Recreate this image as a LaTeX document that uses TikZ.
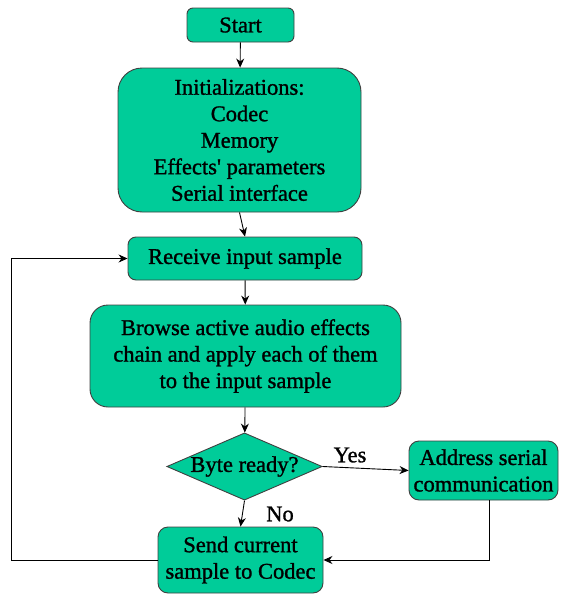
\documentclass[tikz,border=0pt]{standalone}
\usepackage{fontspec}
\setmainfont{Liberation Serif}[FakeBold=1.2]
\usetikzlibrary{shapes.geometric,arrows.meta}
\definecolor{boxfill}{RGB}{0,204,153}
\begin{document}
\begin{tikzpicture}[x=1pt,y=-1pt,
  box/.style={draw=black!75,line width=0.9pt,fill=boxfill,inner sep=0pt,align=center,
    font=\fontsize{22.5}{26.5}\selectfont},
  decision/.style={diamond,aspect=2.31,draw=black!75,line width=0.9pt,fill=boxfill,inner sep=0pt,
    font=\fontsize{22.5}{26.5}\selectfont},
  conn/.style={line width=0.9pt,-{Stealth[length=9pt,width=8pt]}},
  lbl/.style={font=\fontsize{22.5}{26}\selectfont,inner sep=0pt}]
\useasboundingbox (0,0) rectangle (562,597);
\node[box,rounded corners=6pt,minimum width=107pt,minimum height=34pt] (start) at (240.5,25) {Start};
\node[box,rounded corners=24pt,minimum width=243pt,minimum height=144pt] (init) at (239.5,140)
  {Initializations:\\Codec\\Memory\\Effects\textquotesingle{} parameters\\Serial interface};
\node[box,rounded corners=8pt,minimum width=234pt,minimum height=43pt] (recv) at (245,258.5) {Receive input sample};
\node[box,rounded corners=18pt,minimum width=311pt,minimum height=102pt] (browse) at (245.5,356)
  {Browse active audio effects\\chain and apply each of them\\to the input sample};
\node[decision,minimum width=155pt,minimum height=67pt] (dec) at (244.5,466.5) {Byte ready?};
\node[box,rounded corners=10pt,minimum width=149pt,minimum height=59pt] (addr) at (483.5,470.5)
  {Address serial\\communication};
\node[box,rounded corners=10pt,minimum width=165pt,minimum height=66pt] (send) at (240.5,560)
  {Send current\\sample to Codec};
\node[lbl] (yes) at (350,455) {Yes};
\node[lbl] (no) at (280,514) {No};
\draw[conn] (start) -- (init);
\draw[conn] (init.south) -- (recv.north);
\draw[conn] (recv) -- (browse);
\draw[conn] (browse) -- (dec);
\draw[conn] (dec.east) -- (addr.west);
\draw[conn] (dec.south) -- (send.north);
\draw[conn] ([xshift=6pt]addr.south) |- (send.east);
\draw[conn] (send.west) -- ++(-146,0) |- (recv.west);
\end{tikzpicture}
\end{document}
